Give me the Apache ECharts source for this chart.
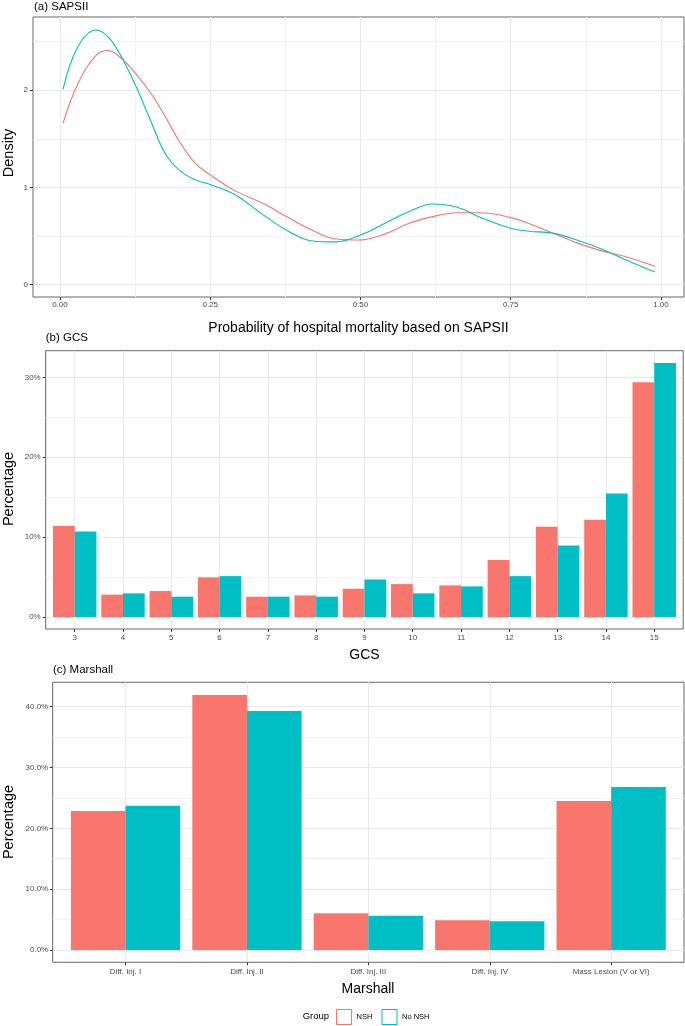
<!DOCTYPE html>
<html><head><meta charset="utf-8">
<script src="https://cdn.jsdelivr.net/npm/echarts@6/dist/echarts.min.js"></script>
<style>html,body{margin:0;padding:0;background:#fff}#c{width:685px;height:1026px}</style>
</head><body><div id="c"></div>
<script>
// ---------- data ----------
const groups = ['NSH', 'No NSH'];
const groupColors = ['#F8766D', '#00BFC4'];

// (a) SAPSII density
const sapsX      = [0.005,0.03,0.06,0.08,0.10,0.125,0.15,0.175,0.20,0.225,0.25,0.29,0.34,0.38,0.42,0.46,0.50,0.54,0.58,0.62,0.66,0.70,0.75,0.78,0.82,0.86,0.90,0.94,0.99];
const sapsNSH    = [1.66,2.07,2.36,2.41,2.34,2.18,1.98,1.73,1.46,1.25,1.13,0.97,0.83,0.69,0.56,0.47,0.46,0.52,0.63,0.70,0.74,0.74,0.69,0.63,0.53,0.43,0.35,0.29,0.19];
const sapsNoNSH  = [2.01,2.45,2.62,2.55,2.37,2.06,1.70,1.35,1.17,1.08,1.03,0.93,0.71,0.55,0.45,0.44,0.51,0.63,0.75,0.83,0.80,0.69,0.58,0.55,0.53,0.46,0.37,0.26,0.13];
const sapsXTicks = [0, 0.25, 0.5, 0.75, 1];
const sapsYTicks = [0, 1, 2];

// (b) GCS
const gcsCats    = [3,4,5,6,7,8,9,10,11,12,13,14,15];
const gcsNSH     = [11.4,2.8,3.25,4.96,2.54,2.7,3.54,4.12,3.96,7.12,11.29,12.17,29.38];
const gcsNoNSH   = [10.7,2.96,2.54,5.12,2.54,2.54,4.7,2.96,3.83,5.12,8.96,15.46,31.8];
const gcsYTicks  = [0, 10, 20, 30];

// (c) Marshall
const marCats    = ['Diff. Inj. I','Diff. Inj. II','Diff. Inj. III','Diff. Inj. IV','Mass Lesion (V or VI)'];
const marNSH     = [22.86,41.9,6.03,4.88,24.5];
const marNoNSH   = [23.7,39.3,5.65,4.71,26.8];
const marYTicks  = [0, 10, 20, 30, 40];

// ---------- helpers ----------
const FONT = "'Liberation Sans', Arial, Helvetica, sans-serif";
const MAJOR = '#e9e9e9', MINOR = '#f3f3f3';
function withMinor(ticks) {
  const out = [];
  for (let i = 0; i < ticks.length; i++) {
    out.push(ticks[i]);
    if (i < ticks.length - 1) out.push((ticks[i] + ticks[i + 1]) / 2);
  }
  const step = ticks[1] - ticks[0];
  out.push(ticks[ticks.length - 1] + step / 2);
  return out;
}
function mainAxis(gi, min, max, pos, gridVals, colors) {
  return {
    type: 'value', gridIndex: gi, min, max, position: pos,
    axisLine: { show: false, onZero: false },
    axisTick: { show: false, customValues: gridVals.filter(v => v >= min && v <= max) },
    axisLabel: { show: false },
    splitLine: { show: true, lineStyle: { color: colors, width: 1 } }
  };
}
function decoAxis(gi, min, max, pos, vals, fmt, margin) {
  return {
    type: 'value', gridIndex: gi, min, max, position: pos,
    axisLine: { show: false, onZero: false },
    axisTick: { show: true, customValues: vals, length: 3, lineStyle: { color: '#333', width: 1 } },
    axisLabel: { show: true, customValues: vals, formatter: fmt, margin, fontSize: 8, color: '#4d4d4d', fontFamily: FONT },
    splitLine: { show: false }
  };
}
function txt(x, y, text, size, opts) {
  return Object.assign({
    type: 'text', x, y,
    style: { text, fontSize: size, fill: '#000', fontFamily: FONT, align: 'left', verticalAlign: 'middle' }
  }, opts || {});
}

// ---------- ranges ----------
const A = { xmin: -0.0449, xmax: 1.0383, ymin: -0.127, ymax: 2.754 };
const B = { xmin: 2.4, xmax: 15.6, ymin: -1.5, ymax: 33.33 };
const C = { xmin: 0.4, xmax: 5.6, ymin: -2.02, ymax: 44.0 };
const marPos = marCats.map((c, i) => i + 1);

const option = {
  backgroundColor: '#fff',
  animation: false,
  textStyle: { fontFamily: FONT },
  grid: [
    { left: 33, top: 17, width: 651, height: 280, show: true, borderColor: '#666', borderWidth: 1, backgroundColor: 'transparent' },
    { left: 45.7, top: 350.7, width: 637.5, height: 278.3, show: true, borderColor: '#666', borderWidth: 1, backgroundColor: 'transparent' },
    { left: 52.7, top: 682.3, width: 631.3, height: 280, show: true, borderColor: '#666', borderWidth: 1, backgroundColor: 'transparent' }
  ],
  xAxis: [
    mainAxis(0, A.xmin, A.xmax, 'top', withMinor(sapsXTicks), [MAJOR, MINOR]),
    decoAxis(0, A.xmin, A.xmax, 'bottom', sapsXTicks, v => v.toFixed(2), 4),
    mainAxis(1, B.xmin, B.xmax, 'top', gcsCats, [MAJOR]),
    decoAxis(1, B.xmin, B.xmax, 'bottom', gcsCats, v => String(v), 5),
    mainAxis(2, C.xmin, C.xmax, 'top', marPos, [MAJOR]),
    decoAxis(2, C.xmin, C.xmax, 'bottom', marPos, v => marCats[Math.round(v) - 1], 5)
  ],
  yAxis: [
    mainAxis(0, A.ymin, A.ymax, 'right', withMinor(sapsYTicks), [MAJOR, MINOR]),
    decoAxis(0, A.ymin, A.ymax, 'left', sapsYTicks, v => String(v), 5),
    mainAxis(1, B.ymin, B.ymax, 'right', withMinor(gcsYTicks), [MAJOR, MINOR]),
    decoAxis(1, B.ymin, B.ymax, 'left', gcsYTicks, v => v + '%', 5),
    mainAxis(2, C.ymin, C.ymax, 'right', withMinor(marYTicks), [MAJOR, MINOR]),
    decoAxis(2, C.ymin, C.ymax, 'left', marYTicks, v => v.toFixed(1) + '%', 4.5)
  ],
  legend: [
    { data: [{ name: groups[0], itemStyle: { color: '#fff', borderColor: groupColors[0], borderWidth: 1 } }],
      left: 336, top: 1009, padding: 0, icon: 'rect', itemWidth: 15, itemHeight: 15, selectedMode: false,
      textStyle: { fontSize: 7.5, color: '#000', fontFamily: FONT } },
    { data: [{ name: groups[1], itemStyle: { color: '#fff', borderColor: groupColors[1], borderWidth: 1 } }],
      left: 381.5, top: 1009, padding: 0, icon: 'rect', itemWidth: 15, itemHeight: 15, selectedMode: false,
      textStyle: { fontSize: 7.5, color: '#000', fontFamily: FONT } }
  ],
  series: [
    { name: groups[0], type: 'line', xAxisIndex: 0, yAxisIndex: 0, smooth: 0.4, showSymbol: false, z: 3,
      color: groupColors[0], lineStyle: { width: 1.1, color: groupColors[0] },
      data: sapsX.map((x, i) => [x, sapsNSH[i]]) },
    { name: groups[1], type: 'line', xAxisIndex: 0, yAxisIndex: 0, smooth: 0.4, showSymbol: false, z: 3,
      color: groupColors[1], lineStyle: { width: 1.1, color: groupColors[1] },
      data: sapsX.map((x, i) => [x, sapsNoNSH[i]]) },
    { name: groups[0], type: 'bar', xAxisIndex: 2, yAxisIndex: 2, barGap: '0%', barCategoryGap: '10%',
      itemStyle: { color: groupColors[0] }, data: gcsCats.map((c, i) => [c, gcsNSH[i]]) },
    { name: groups[1], type: 'bar', xAxisIndex: 2, yAxisIndex: 2, barGap: '0%', barCategoryGap: '10%',
      itemStyle: { color: groupColors[1] }, data: gcsCats.map((c, i) => [c, gcsNoNSH[i]]) },
    { name: groups[0], type: 'bar', xAxisIndex: 4, yAxisIndex: 4, barGap: '0%', barCategoryGap: '10%',
      itemStyle: { color: groupColors[0] }, data: marPos.map((p, i) => [p, marNSH[i]]) },
    { name: groups[1], type: 'bar', xAxisIndex: 4, yAxisIndex: 4, barGap: '0%', barCategoryGap: '10%',
      itemStyle: { color: groupColors[1] }, data: marPos.map((p, i) => [p, marNoNSH[i]]) }
  ],
  graphic: [
    txt(34, 7, '(a) SAPSII', 11.5),
    txt(9, 153, 'Density', 14.5, { rotation: Math.PI / 2, style: { text: 'Density', fontSize: 14.5, fill: '#000', fontFamily: FONT, align: 'center', verticalAlign: 'middle' } }),
    txt(358.5, 328, 'Probability of hospital mortality based on SAPSII', 14, { style: { text: 'Probability of hospital mortality based on SAPSII', fontSize: 14, fill: '#000', fontFamily: FONT, align: 'center', verticalAlign: 'middle' } }),
    txt(45.7, 338, '(b) GCS', 11.5),
    txt(9, 489, 'Percentage', 14.5, { rotation: Math.PI / 2, style: { text: 'Percentage', fontSize: 14.5, fill: '#000', fontFamily: FONT, align: 'center', verticalAlign: 'middle' } }),
    txt(364.5, 655, 'GCS', 14, { style: { text: 'GCS', fontSize: 14, fill: '#000', fontFamily: FONT, align: 'center', verticalAlign: 'middle' } }),
    txt(53, 670, '(c) Marshall', 11.5),
    txt(9, 822, 'Percentage', 14.5, { rotation: Math.PI / 2, style: { text: 'Percentage', fontSize: 14.5, fill: '#000', fontFamily: FONT, align: 'center', verticalAlign: 'middle' } }),
    txt(368, 989, 'Marshall', 14, { style: { text: 'Marshall', fontSize: 14, fill: '#000', fontFamily: FONT, align: 'center', verticalAlign: 'middle' } }),
    txt(302.7, 1016.5, 'Group', 9.5)
  ]
};
const chart = echarts.init(document.getElementById('c'), null, { renderer: 'canvas' });
chart.setOption(option);
</script>
</body></html>
